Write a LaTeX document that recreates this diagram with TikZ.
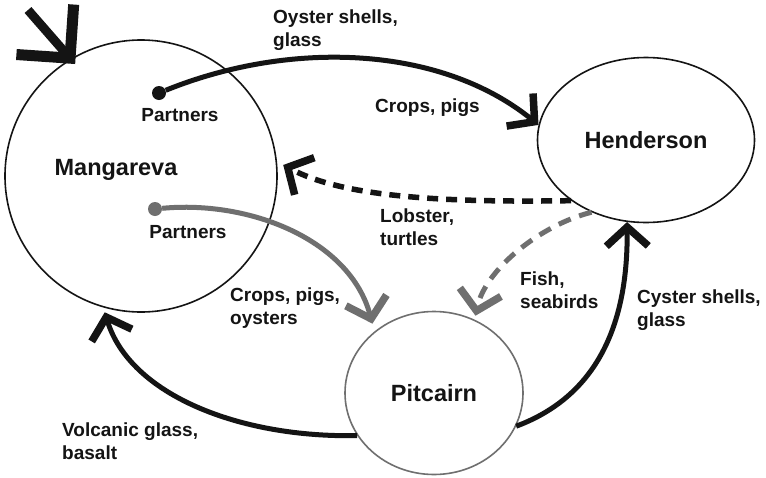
\documentclass[tikz,border=0pt]{standalone}
\usepackage{fontspec}
\setmainfont{Liberation Sans}
\usepackage{xcolor}
\usetikzlibrary{arrows.meta,positioning,shapes.geometric}
\definecolor{ink}{HTML}{141414}
\definecolor{greyc}{HTML}{6F6F6F}

\begin{document}
\begin{tikzpicture}[x=1pt,y=-1pt,
  island/.style={ellipse,draw=ink,line width=1.6pt,inner sep=0pt},
  lbl/.style={font=\fontsize{19}{23}\selectfont\bfseries,align=left,inner sep=0pt,text=ink},
  islandname/.style={font=\fontsize{23.5}{28}\selectfont\bfseries,inner sep=0pt,text=ink},
  dot/.style={circle,fill,inner sep=0pt,minimum size=14pt},
  flow/.style={line width=5pt,draw=ink,-{Straight Barb[length=19pt,width=42pt,line width=7.5pt,line cap=butt,line join=miter]}},
  greyflow/.style={flow,draw=greyc}]
\useasboundingbox[fill=white] (0,0) rectangle (766,477);

% islands
\node[island,minimum width=272pt,minimum height=272pt] (mang) at (141,176) {};
\node[island,minimum width=217pt,minimum height=165pt] (hend) at (646,140) {};
\node[island,draw=greyc,minimum width=178pt,minimum height=163pt] (pitc) at (434,393) {};

\node[islandname] (mangname) at (116,170) {Mangareva};
\node[islandname] (hendname) at (hend) {Henderson};
\node[islandname] (pitcname) at (pitc) {Pitcairn};

% partners
\node[dot,fill=ink] (partA) at (159,93) {};
\node[dot,fill=greyc] (partB) at (155,209) {};
\node[lbl,anchor=north] (partAl) at (180,108) {Partners};
\node[lbl,anchor=north] (partBl) at (188,225) {Partners};

% trade routes
\draw[flow] (partA) .. controls (290,40) and (440,45) .. (hend.172);
\draw[flow,dash pattern=on 11pt off 8pt,line width=5.5pt,shorten >=7pt]
  (hend.219) .. controls (430,203) and (340,195) .. (mang.6);
\draw[greyflow,shorten >=8pt] (partB) .. controls (250,200) and (350,240) .. (pitc.134);
\draw[greyflow,dash pattern=on 13pt off 9pt,shorten >=4pt]
  (hend.233) .. controls (540,225) and (485,270) .. (pitc.61);
\draw[flow] (pitc.338) .. controls (600,395) and (628,320) .. (hend.257);
\draw[flow,shorten >=5pt] (pitc.209) .. controls (240,438) and (130,395) .. (mang.254);

% outside contact
\coordinate (inflow) at (28,10);
\draw[ink,line width=9pt,-{Straight Barb[length=38pt,width=76pt,line width=11pt,line cap=butt,line join=miter]},shorten >=-7pt] (inflow) -- (mang.121);

% goods
\node[lbl,anchor=north west] (oyster) at (273,10) {Oyster shells,\\glass};
\node[lbl,anchor=north west] (cropsA) at (375,99) {Crops, pigs};
\node[lbl,anchor=north west] (lobster) at (380,209) {Lobster,\\turtles};
\node[lbl,anchor=north west] (cropsB) at (230,288) {Crops, pigs,\\oysters};
\node[lbl,anchor=north west] (fish) at (520,272) {Fish,\\seabirds};
\node[lbl,anchor=north west] (cyster) at (637,290) {Cyster shells,\\glass};
\node[lbl,anchor=north west] (volcanic) at (62,423) {Volcanic glass,\\basalt};
\end{tikzpicture}
\end{document}
